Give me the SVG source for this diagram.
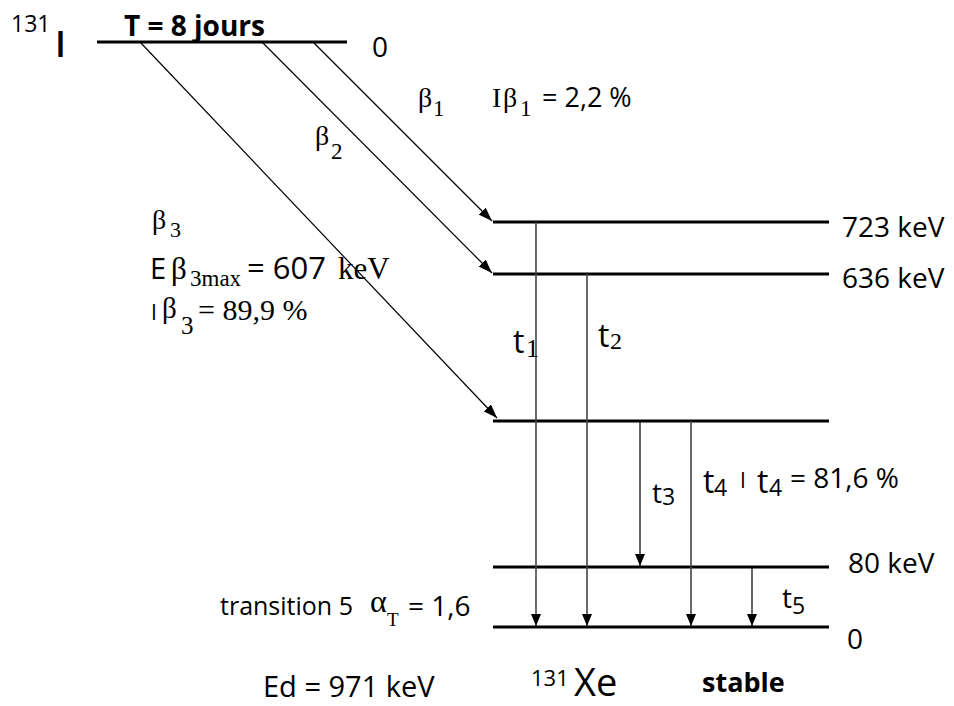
<svg xmlns="http://www.w3.org/2000/svg" width="954" height="706" viewBox="0 0 954 706">
<style>
.s{font-family:"Open Sans","Liberation Sans",sans-serif;fill:#000}
.b{font-weight:bold}
.r{font-family:"Liberation Serif","Times New Roman",serif;fill:#000}
.lvl{stroke:#000;stroke-width:3;fill:none}
.beta{stroke:#000;stroke-width:1.2;fill:none}
.tg{stroke:#444;stroke-width:1.6;fill:none}
.tk{stroke:#000;stroke-width:1.2;fill:none}
</style>
<defs>
<marker id="ah" viewBox="0 0 14 10" refX="14" refY="5" markerWidth="14" markerHeight="10" markerUnits="userSpaceOnUse" orient="auto"><path d="M0,0 L14,5 L0,10 z" fill="#000"/></marker>
<marker id="av" viewBox="0 0 12 10" refX="12" refY="5" markerWidth="12" markerHeight="10" markerUnits="userSpaceOnUse" orient="auto"><path d="M0,0 L12,5 L0,10 z" fill="#000"/></marker>
</defs>
<rect width="954" height="706" fill="#fff"/>

<g id="parent">
<line class="lvl" x1="97" y1="42" x2="347" y2="42"/>
<text class="s" x="11" y="32" font-size="23">131</text>
<text class="s" x="55" y="57" font-size="36" font-weight="600">I</text>
<text class="s b" x="124" y="36" font-size="28">T = 8 jours</text>
<text class="s" x="372" y="57" font-size="28">0</text>
</g>

<g id="level-723">
<line class="lvl" x1="493" y1="222" x2="829" y2="222"/>
<text class="s" x="842" y="237" font-size="28">723 keV</text>
</g>
<g id="level-636">
<line class="lvl" x1="493" y1="274" x2="829" y2="274"/>
<text class="s" x="842" y="288" font-size="28">636 keV</text>
</g>
<g id="level-364">
<line class="lvl" x1="493" y1="421" x2="829" y2="421"/>
</g>
<g id="level-80">
<line class="lvl" x1="493" y1="567" x2="829" y2="567"/>
<text class="s" x="848" y="573" font-size="28">80 keV</text>
</g>
<g id="level-0">
<line class="lvl" x1="493" y1="627" x2="829" y2="627"/>
<text class="s" x="847" y="649" font-size="28">0</text>
</g>

<g id="connectors">
<line class="beta" x1="313" y1="42" x2="492" y2="221" marker-end="url(#ah)"/>
<line class="beta" x1="262" y1="42" x2="492" y2="273" marker-end="url(#ah)"/>
<line class="beta" x1="140" y1="42" x2="497" y2="418" marker-end="url(#ah)"/>
<line class="tg" x1="536" y1="222" x2="536" y2="626" marker-end="url(#av)"/>
<line class="tg" x1="587" y1="274" x2="587" y2="626" marker-end="url(#av)"/>
<line class="tk" x1="640" y1="421" x2="640" y2="566" marker-end="url(#av)"/>
<line class="tg" x1="691" y1="421" x2="691" y2="626" marker-end="url(#av)"/>
<line class="tk" x1="752" y1="567" x2="752" y2="626" marker-end="url(#av)"/>
</g>

<g id="beta1-label">
<text class="r" x="418" y="107" font-size="28">β</text>
<text class="r" x="433" y="116" font-size="23">1</text>
<text class="r" x="492" y="107" font-size="28">I</text>
<text class="r" x="503" y="107" font-size="28">β</text>
<text class="r" x="520" y="116" font-size="23">1</text>
<text class="s" x="542" y="107" font-size="27">= 2,2 %</text>
</g>
<g id="beta2-label">
<text class="r" x="315" y="145" font-size="28">β</text>
<text class="r" x="331" y="159" font-size="23">2</text>
</g>
<g id="beta3-label">
<text class="r" x="152" y="229" font-size="28">β</text>
<text class="r" x="170" y="237" font-size="22">3</text>
<text class="s" x="150" y="279" font-size="29">E</text>
<text class="r" x="171" y="279" font-size="31">β</text>
<text class="r" x="190" y="286" font-size="23">3max</text>
<text class="s" x="247" y="279" font-size="31">= 607</text>
<text class="r" x="338" y="279" font-size="31">keV</text>
<text class="s" x="151" y="320" font-size="21">I</text>
<text class="r" x="162" y="318" font-size="29">β</text>
<text class="r" x="181" y="334" font-size="25">3</text>
<text class="r" x="198" y="320" font-size="30">= 89,9 %</text>
</g>

<g id="t-labels">
<text class="s" x="513" y="353" font-size="32">t</text>
<text class="r" x="526" y="357" font-size="26">1</text>
<text class="s" x="598" y="347" font-size="32">t</text>
<text class="r" x="610" y="349" font-size="24">2</text>
<text class="s" x="652" y="503" font-size="28">t</text>
<text class="s" x="662" y="505" font-size="23">3</text>
<text class="s" x="703" y="493" font-size="32">t</text>
<text class="s" x="714" y="496" font-size="23">4</text>
<text class="s" x="740" y="488" font-size="21">I</text>
<text class="s" x="757" y="493" font-size="32">t</text>
<text class="s" x="769" y="496" font-size="23">4</text>
<text class="s" x="790" y="488" font-size="28">= 81,6 %</text>
<text class="s" x="782" y="608" font-size="28">t</text>
<text class="s" x="792" y="614" font-size="23">5</text>
</g>

<g id="footer">
<text class="s" x="220" y="615" font-size="25">transition 5</text>
<text class="r" x="370" y="612" font-size="32">α</text>
<text class="r" x="387" y="626" font-size="19">T</text>
<text class="s" x="408" y="616" font-size="28">= 1,6</text>
<text class="s" x="263" y="697" font-size="29">Ed  = 971 keV</text>
<text class="s" x="531" y="686" font-size="22">131</text>
<text class="s" x="574" y="696" font-size="38">Xe</text>
<text class="s b" x="702" y="692" font-size="27">stable</text>
</g>
</svg>
